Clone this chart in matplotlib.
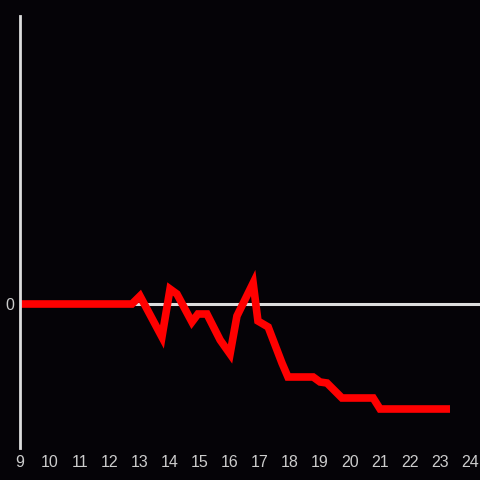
import matplotlib
matplotlib.use("Agg")
import matplotlib.pyplot as plt

# hours of the day vs. change (arbitrary units)
hours = [9.0, 12.73, 13.0, 13.73, 14.0, 14.23, 14.73, 14.93, 15.23, 15.67, 16.0,
         16.23, 16.77, 16.93, 17.27, 17.73, 17.93, 18.77, 19.0, 19.23, 19.73,
         20.77, 21.0, 23.33]
change = [0, 0, 8, -33, 15, 10, -18, -10, -10, -36, -50,
          -12, 21, -17, -23, -59, -73, -73, -78, -79, -94,
          -94, -105, -105]
xticks = list(range(9, 25))

bg = "#050307"
fig = plt.figure(figsize=(4.8, 4.8), dpi=100, facecolor=bg)
ax = fig.add_axes([20 / 480, 32 / 480, 460 / 480, 432 / 480], facecolor=bg)

ax.axhline(0, color="#dddddd", lw=2.2, zorder=1)
ax.plot(hours, change, color="#ff0000", lw=5.5, solid_joinstyle="miter",
        solid_capstyle="butt", zorder=2)

ax.set_xlim(9, 24.33)
ax.set_ylim(-144, 288)
ax.set_xticks(xticks)
ax.set_xticklabels([str(t) for t in xticks])
ax.set_yticks([0])
ax.set_yticklabels(["0"])
ax.tick_params(length=0, colors="#cccccc", labelsize=11.5,
               labelfontfamily="Liberation Sans")
ax.tick_params(axis="x", pad=5)
ax.tick_params(axis="y", pad=4)

for s in ["top", "right", "bottom"]:
    ax.spines[s].set_visible(False)
ax.spines["left"].set_color("#dddddd")
ax.spines["left"].set_linewidth(2)

fig.savefig("out.png", dpi=100, facecolor=bg)
